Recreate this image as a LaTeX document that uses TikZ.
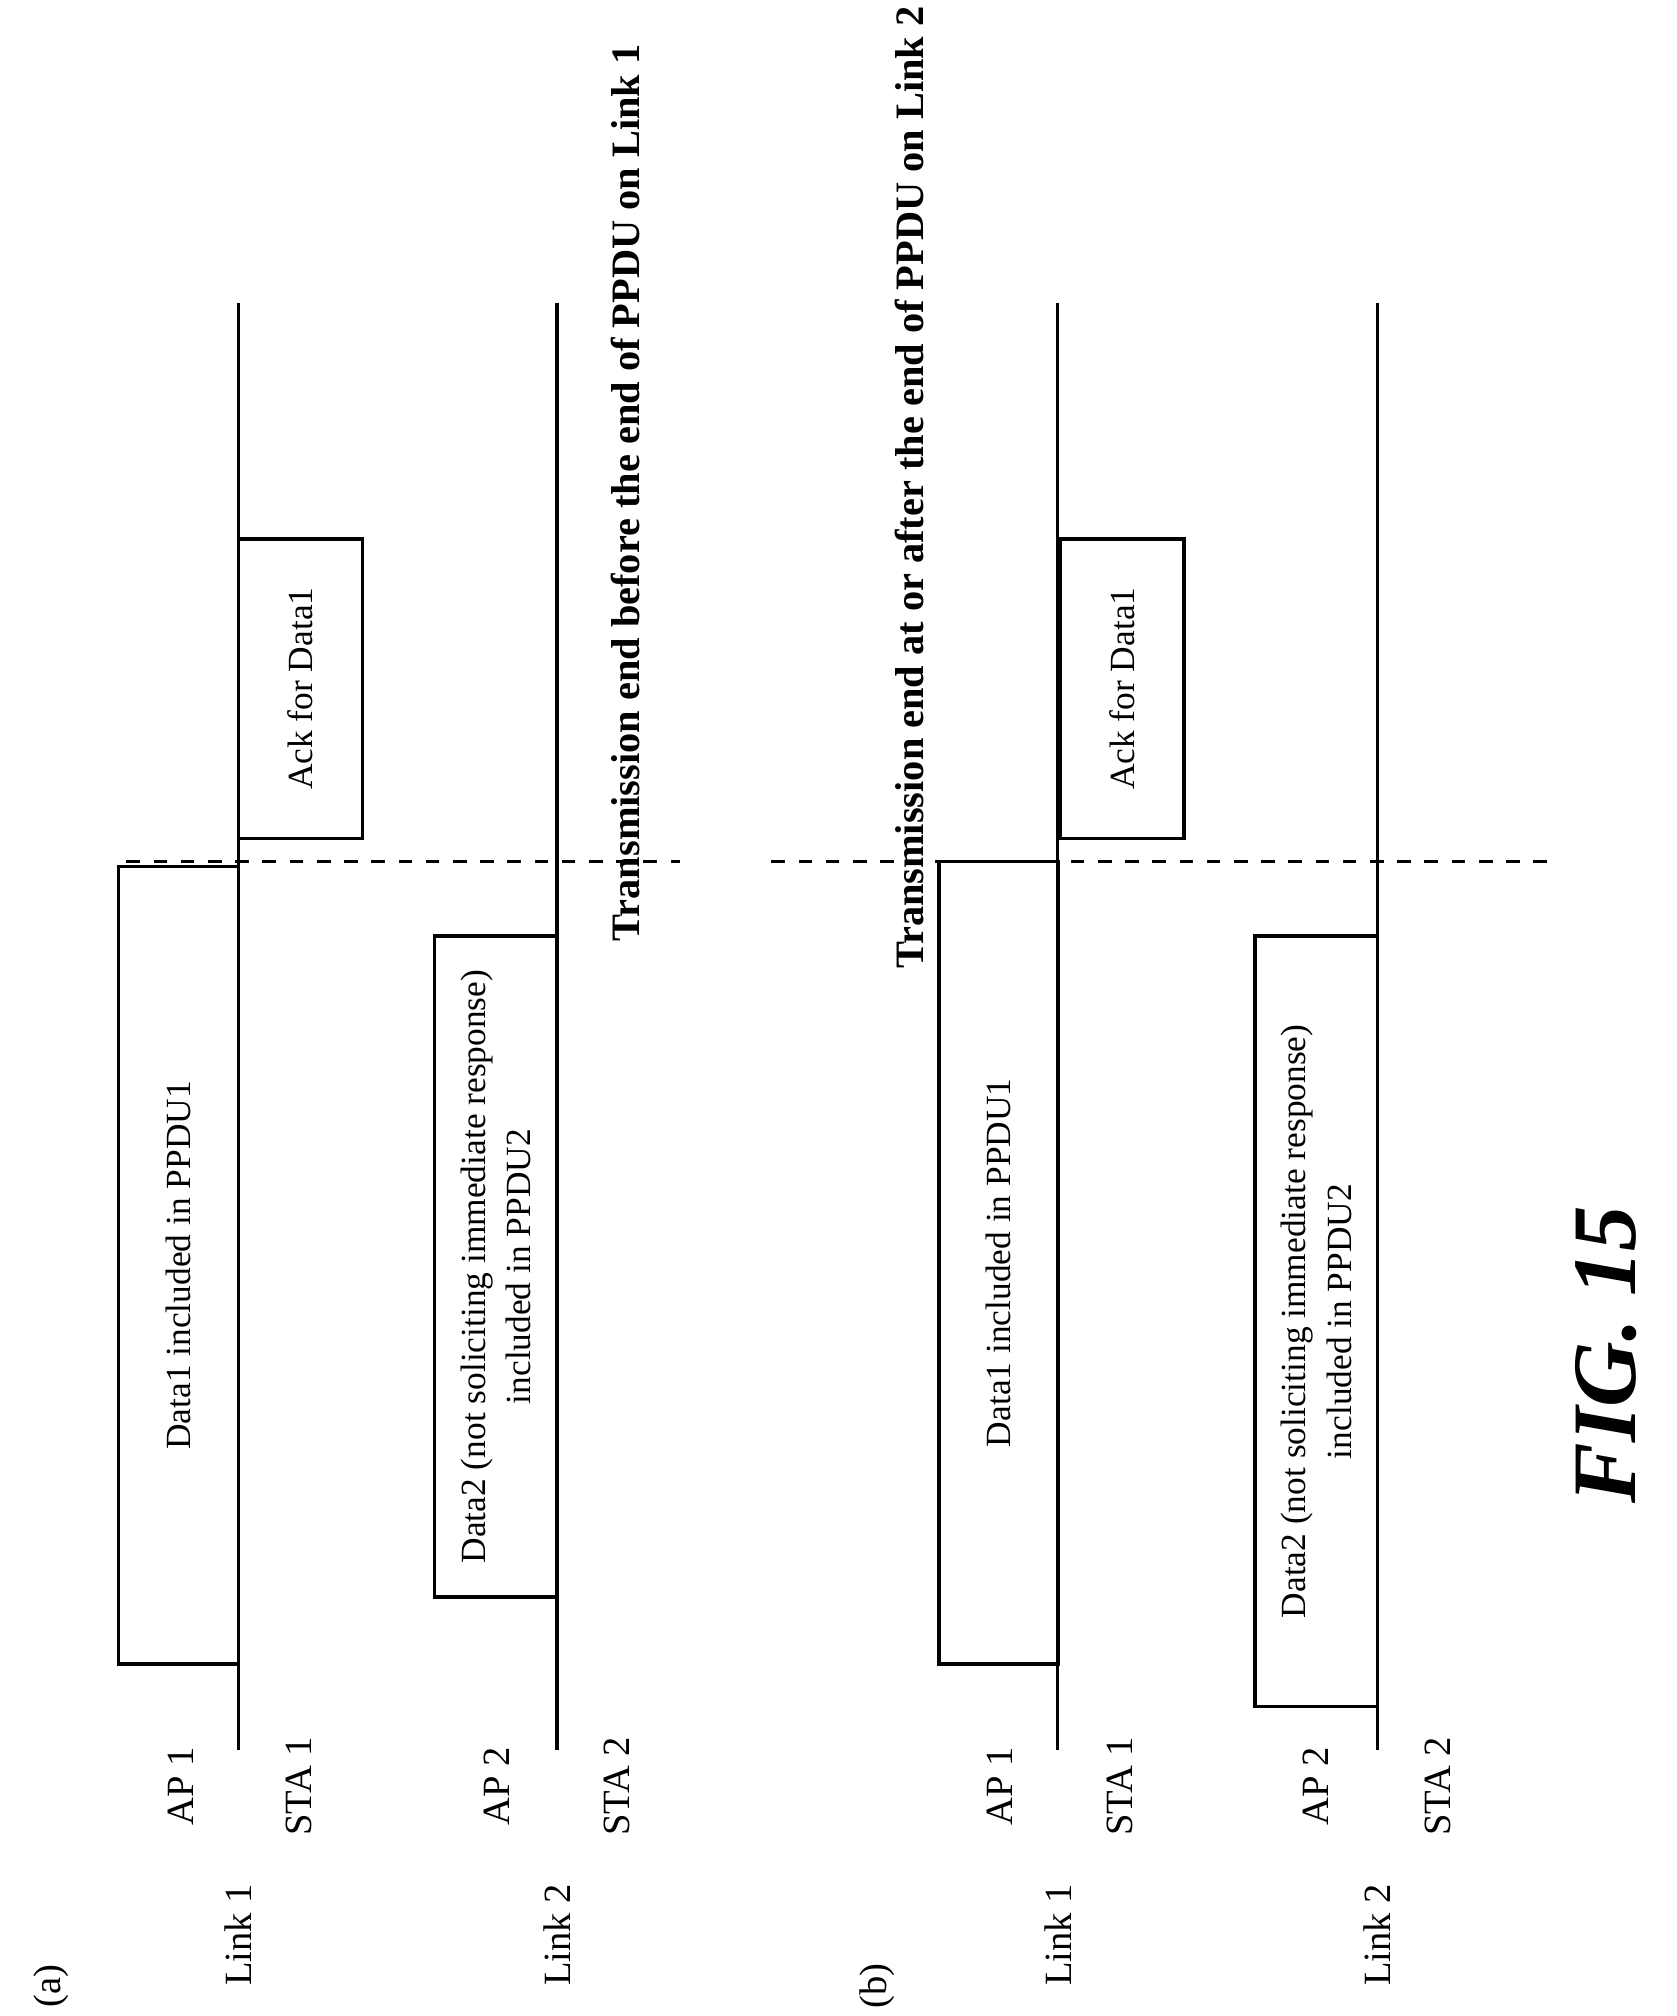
\documentclass[tikz,border=0pt]{standalone}
\usepackage{fontspec}
\setmainfont{Liberation Serif}
\tikzset{every node/.append style={font=\rmfamily}}

\begin{document}
\begin{tikzpicture}[x=0.01cm, y=-0.01cm,
    frame/.style={draw, line width=0.8pt, rotate=90, inner sep=0pt, align=center, font=\rmfamily\fontsize{7.8}{10}\selectfont},
    lbl/.style={rotate=90, font=\rmfamily\fontsize{8.5}{10}\selectfont},
    heading/.style={rotate=90, font=\rmfamily\bfseries\fontsize{8.9}{11}\selectfont}]
    \useasboundingbox (0,0) rectangle (1300,1563);

    % panel (a)
    \coordinate (l1s) at (185,1357); \coordinate (l1e) at (185,235);
    \coordinate (l2s) at (432,1357); \coordinate (l2e) at (432,235);
    \draw[line width=0.8pt] (l1s) -- (l1e);
    \draw[line width=0.8pt] (l2s) -- (l2e);
    \node[frame, minimum width=6.18cm, minimum height=0.93cm] (d1) at (138.5,981) {Data1 included in PPDU1};
    \node[frame, minimum width=2.32cm, minimum height=0.96cm] (ack) at (233,534) {Ack for Data1};
    \node[frame, minimum width=5.12cm, minimum height=0.95cm] (d2) at (384.5,982) {Data2 (not soliciting immediate response)\\included in PPDU2};
    \coordinate (da) at (98,668); \coordinate (db) at (527,668);
    \draw[dashed, line width=0.8pt] (da) -- (db);
    \node[lbl] (a) at (40,1540) {(a)};
    \node[lbl] (link1) at (185,1500) {Link 1};
    \node[lbl] (ap1) at (140,1385) {AP 1};
    \node[lbl] (sta1) at (232,1385) {STA 1};
    \node[lbl] (link2) at (432,1500) {Link 2};
    \node[lbl] (ap2) at (385,1385) {AP 2};
    \node[lbl] (sta2) at (478,1385) {STA 2};
    \node[heading] (ta) at (485,382) {Transmission end before the end of PPDU on Link 1};

    % panel (b)
    \coordinate (m1s) at (820,1357); \coordinate (m1e) at (820,235);
    \coordinate (m2s) at (1068,1357); \coordinate (m2e) at (1068,235);
    \draw[line width=0.8pt] (m1s) -- (m1e);
    \draw[line width=0.8pt] (m2s) -- (m2e);
    \node[frame, minimum width=6.22cm, minimum height=0.92cm] (e1) at (774,979) {Data1 included in PPDU1};
    \node[frame, minimum width=2.32cm, minimum height=0.96cm] (ack2) at (870,534) {Ack for Data1};
    \node[frame, minimum width=5.97cm, minimum height=0.95cm] (e2) at (1020.5,1024.5) {Data2 (not soliciting immediate response)\\included in PPDU2};
    \coordinate (ea) at (598,668); \coordinate (eb) at (1200,668);
    \draw[dashed, line width=0.8pt] (ea) -- (eb);
    \node[lbl] (b) at (680,1540) {(b)};
    \node[lbl] (mlink1) at (820,1500) {Link 1};
    \node[lbl] (map1) at (775,1385) {AP 1};
    \node[lbl] (msta1) at (868,1385) {STA 1};
    \node[lbl] (mlink2) at (1068,1500) {Link 2};
    \node[lbl] (map2) at (1020,1385) {AP 2};
    \node[lbl] (msta2) at (1115,1385) {STA 2};
    \node[heading] (tb) at (705,378) {Transmission end at or after the end of PPDU on Link 2};

    \node[rotate=90, font=\rmfamily\bfseries\itshape\fontsize{20}{22}\selectfont] (fig) at (1245,1050) {FIG. 15};
\end{tikzpicture}
\end{document}
